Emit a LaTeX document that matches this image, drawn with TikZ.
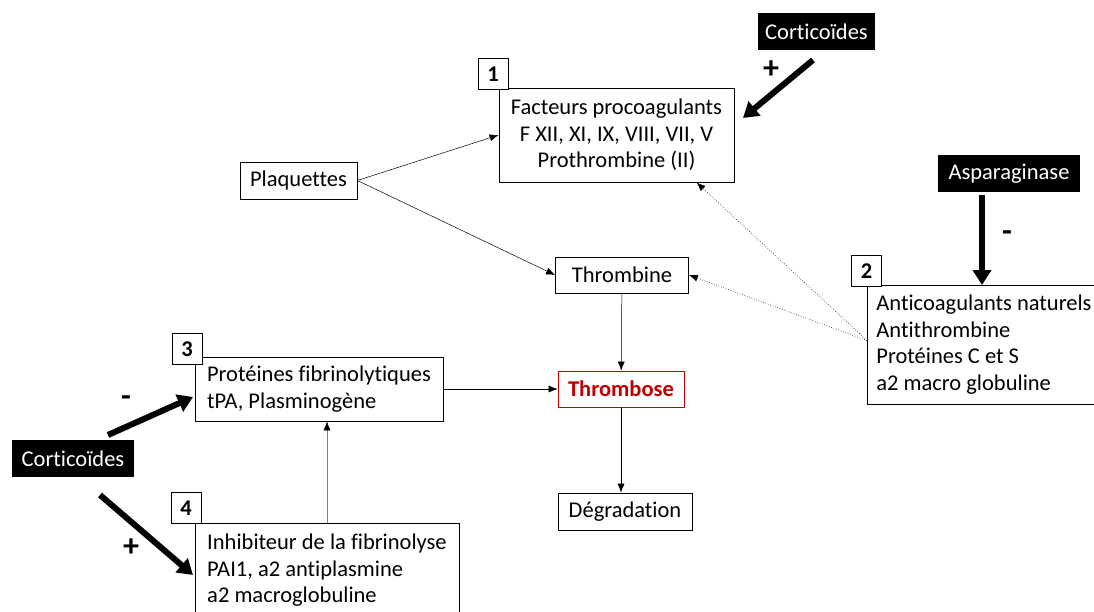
\documentclass[tikz,border=0pt]{standalone}
\usepackage{fontspec}
\setmainfont{Carlito}[Ligatures=NoCommon]
\usetikzlibrary{arrows.meta,positioning}
\definecolor{rouge}{HTML}{C00000}

\begin{document}
\begin{tikzpicture}[x=1pt,y=-1pt,
	every node/.style={font=\fontsize{22.5}{26.5}\selectfont},
	box/.style={draw, line width=0.8pt, fill=white, inner xsep=9pt, inner ysep=0pt},
	numbox/.style={draw, line width=0.8pt, fill=white, font=\fontsize{22.5}{26.5}\selectfont\bfseries, minimum width=30pt, minimum height=31pt, inner sep=0pt},
	drug/.style={fill=black, text=white, minimum height=37pt, inner sep=0pt},
	sign/.style={font=\fontsize{32}{32}\selectfont\bfseries},
	fleche/.style={-{Latex[length=9pt,width=7pt]}, line width=0.5pt},
	pointille/.style={fleche, dotted, line width=0.7pt},
	grosse/.style={line width=6pt, -{Triangle[length=15pt,width=18pt]}}
	]
	\useasboundingbox (0,0) rectangle (1094,612);
	% boites
	\node[box, minimum width=235pt, minimum height=94pt, align=center] (facteurs) at (616.5,135) {Facteurs procoagulants\\F XII, XI, IX, VIII, VII, V\\Prothrombine (II)};
	\node[box, minimum width=117pt, minimum height=37pt] (plaq) at (298.5,180.5) {Plaquettes};
	\node[box, minimum width=133pt, minimum height=36pt] (thrombine) at (622,275) {Thrombine};
	\node[box, draw=rouge, text=rouge, font=\fontsize{22.5}{26.5}\selectfont\bfseries, minimum width=126pt, minimum height=36pt] (thrombose) at (621,389) {Thrombose};
	\node[box, minimum width=134pt, minimum height=37pt] (degrad) at (625,511.5) {Dégradation};
	\node[box, minimum height=119pt, align=left, anchor=west] (anticoag) at (867,344.5) {Anticoagulants naturels\\Antithrombine\\Protéines C et S\\a2 macro globuline};
	\node[box, minimum width=248pt, minimum height=64pt, align=left] (fibrino) at (319,389) {Protéines fibrinolytiques\\tPA, Plasminogène};
	\node[box, minimum width=264pt, minimum height=95pt, align=left] (inhib) at (327,570.5) {Inhibiteur de la fibrinolyse\\PAI1, a2 antiplasmine\\a2 macroglobuline};
	% numeros
	\foreach \n\x\y in {1/493/74, 2/866.5/271, 3/187/349, 4/186/508}{
		\node[numbox] (n\n) at (\x,\y) {\n};
	}
	% medicaments
	\node[drug, minimum width=117pt] (cortiA) at (816.5,31.5) {Corticoïdes};
	\node[drug, minimum width=142pt] (aspa) at (1009,173.5) {Asparaginase};
	\node[drug, minimum width=122pt] (cortiB) at (73,458.5) {Corticoïdes};
	\coordinate (a1) at (813,60);  \coordinate (b1) at (743,118);
	\coordinate (a2) at (982,195); \coordinate (b2) at (982,285);
	\coordinate (a3) at (108,435); \coordinate (b3) at (193,397);
	\coordinate (a4) at (100,495); \coordinate (b4) at (193,575);
	\draw[grosse] (a1) -- (b1);
	\draw[grosse] (a2) -- (b2);
	\draw[grosse] (a3) -- (b3);
	\draw[grosse] (a4) -- (b4);
	\node[sign] (plusA) at (771,70) {+};
	\node[sign] (moinsA) at (1007,236) {-};
	\node[sign] (moinsB) at (126,401) {-};
	\node[sign] (plusB) at (131,548) {+};
	% fleches
	\draw[fleche] (plaq.east) -- (facteurs.west);
	\draw[fleche] (plaq.east) -- (thrombine.west);
	\draw[pointille] ([yshift=4pt]anticoag.west) -- ([xshift=80pt]facteurs.south);
	\draw[pointille] ([yshift=4pt]anticoag.west) -- (thrombine.east);
	\draw[fleche] (thrombine) -- (thrombose);
	\draw[fleche] (thrombose.south) -- (thrombose.south |- degrad.north);
	\draw[fleche] (fibrino) -- (thrombose);
	\draw[fleche, draw=gray, -{Latex[length=9pt,width=7pt,color=black]}] (inhib.north) -- (inhib.north |- fibrino.south);
\end{tikzpicture}
\end{document}
